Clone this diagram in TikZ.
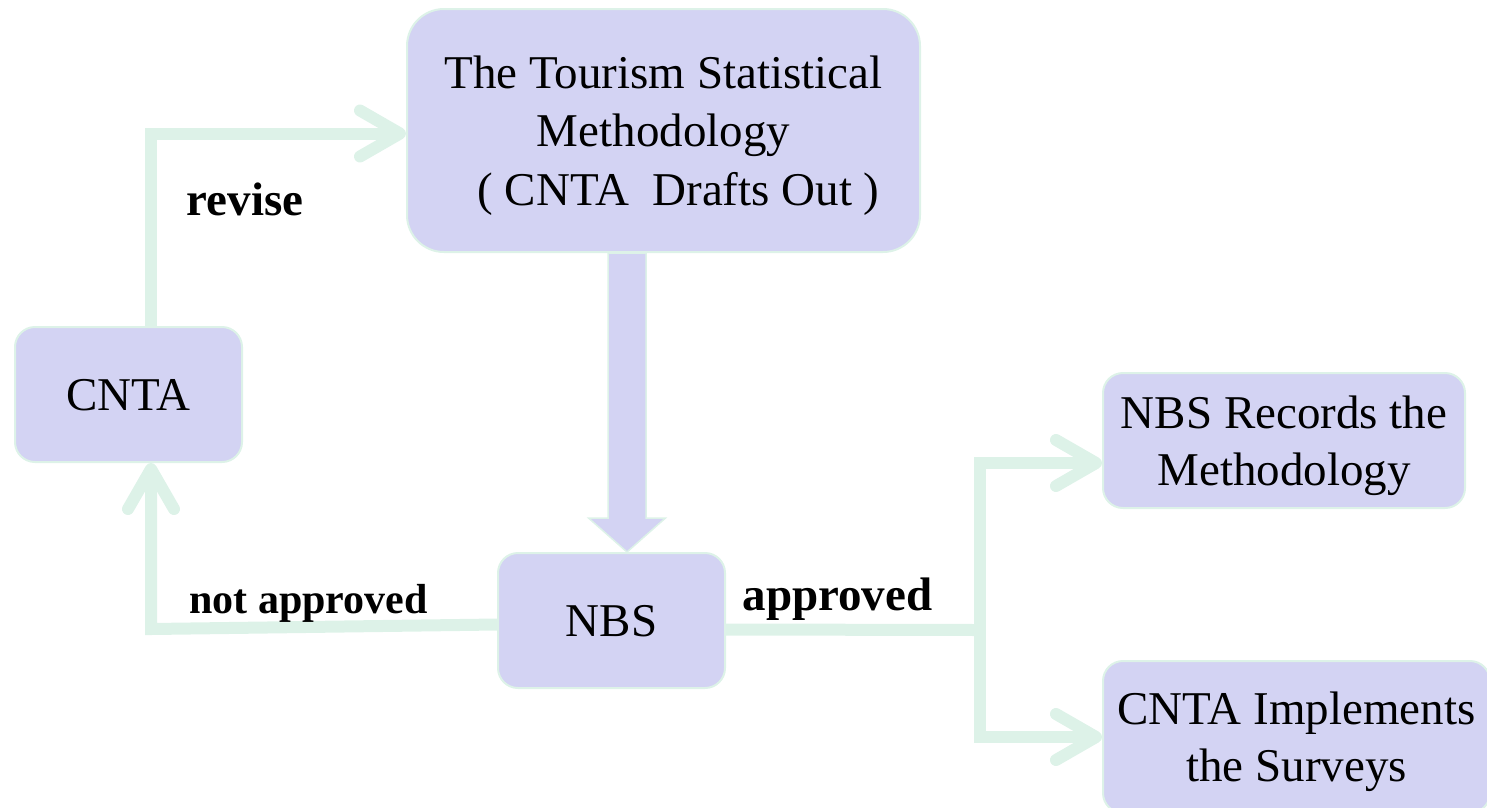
\documentclass[tikz,border=0pt]{standalone}
\usepackage{fontspec}
\setmainfont{Liberation Serif}
\usetikzlibrary{arrows.meta,calc}
\definecolor{boxfill}{RGB}{211,211,243}
\definecolor{mint}{RGB}{221,242,232}

\begin{document}
\begin{tikzpicture}[x=1pt,y=-1pt,
    stage/.style={draw=mint,line width=2pt,fill=boxfill,rounded corners=20pt,
      inner sep=0pt,text depth=0pt,align=center,font=\fontsize{47}{57}\selectfont},
    flow/.style={draw=mint,line width=12pt,-{Straight Barb[length=40pt,width=46pt,round]}},
    link/.style={draw=mint,line width=12pt},
    tag/.style={font=\fontsize{47}{48}\selectfont\bfseries,anchor=base,inner sep=0pt},
    bigarrow/.style={fill=boxfill,draw=mint,line width=1.5pt}]
    \useasboundingbox (0,0) rectangle (1487,807);
    \node (meth) [stage,rounded corners=37pt,minimum width=513pt,minimum height=243pt,
          font=\fontsize{47}{58.5}\selectfont] at (663.5,130.5)
          {The Tourism Statistical\\Methodology\\\hspace*{30pt}(\ CNTA\ \ Drafts Out\ )};
    \node (cnta) [stage,minimum width=227pt,minimum height=135pt] at (128.5,394.5) {CNTA};
    \node (nbs) [stage,minimum width=227pt,minimum height=135pt] at (611.5,620.5) {NBS};
    \node (rec) [stage,minimum width=362pt,minimum height=135pt] at (1284,440.5) {NBS Records the\\Methodology};
    \node (impl) [stage,minimum width=387pt,minimum height=152pt] at (1296.5,737) {CNTA Implements\\the Surveys};
    % big arrow down to NBS
    \coordinate (batop) at ($(meth.south)+(-36.5,0)$);
    \coordinate (batip) at ($(nbs.north)+(15.5,0)$);
    \draw[bigarrow] ($(batop)+(-19,0)$) -- ($(batop)+(19,0)$) -- ($(batip)+(19,-34)$)
          -- ($(batip)+(38.5,-34)$) -- (batip) -- ($(batip)+(-38.5,-34)$)
          -- ($(batip)+(-19,-34)$) -- cycle;
    % loop back
    \draw[flow] ([xshift=22.5pt]cnta.north) |- ([yshift=-3pt]meth.west);
    \coordinate (nabend) at (151,629);
    \draw[flow] ([yshift=-4pt]nbs.west) -- (nabend) -- (nabend |- cnta.south);
    % approved branch
    \coordinate (split) at (980,630);
    \draw[link] ([yshift=-9pt]nbs.east) -- (split);
    \draw[flow] (split) |- ([yshift=-22.5pt]rec.west);
    \draw[flow] (split) |- (impl.west);
    \node[tag] (revlbl) at (245,215) {revise};
    \node[tag,font=\fontsize{42}{44}\selectfont\bfseries] (nalbl) at (308.5,613) {not approved};
    \node[tag] (aplbl) at (837.5,610) {approved};
  \end{tikzpicture}
\end{document}
